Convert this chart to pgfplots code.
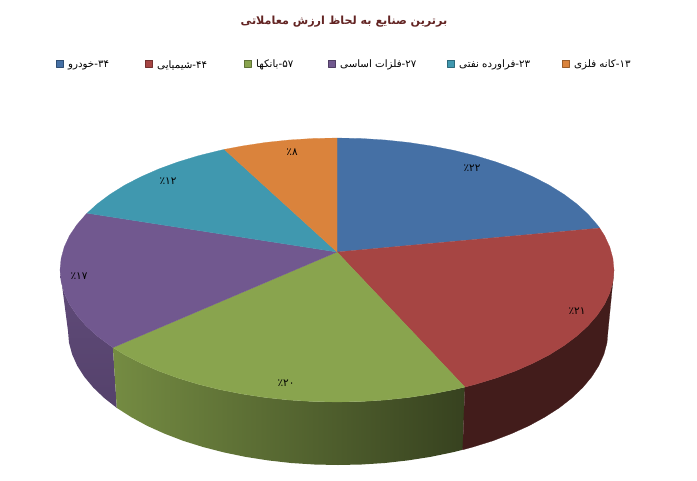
\documentclass[border=0pt]{standalone}
\usepackage{pgfplots}
\pgfplotsset{compat=1.18}
\usepackage{fontspec}
\setmainfont{DejaVu Sans}
\newfontfamily\arabicfont[Script=Arabic]{DejaVu Sans}
\TeXXeTstate=1
\definecolor{cblue}{HTML}{4570A5}
\definecolor{cred}{HTML}{A64543}
\definecolor{cgreen}{HTML}{89A44E}
\definecolor{cpurple}{HTML}{71588F}
\definecolor{cteal}{HTML}{4098AF}
\definecolor{corange}{HTML}{DA833C}
\definecolor{ctitle}{HTML}{632423}
\newcommand{\legf}{\arabicfont\fontsize{10.3}{12}\selectfont}
\newcommand{\pctf}{\arabicfont\fontsize{10.5}{12}\selectfont}
\begin{document}
\begin{tikzpicture}
\path[use as bounding box] (0,0) rectangle (697bp,481bp);
\begin{axis}[
  at={(0,0)}, anchor=south west,
  scale only axis, width=697bp, height=481bp,
  xmin=0, xmax=697, ymin=0, ymax=481, y dir=reverse,
  hide axis, clip=false,
  every axis plot/.append style={line join=round}
]
% side walls
\addplot[draw=none, shade, shading angle=90, top color=cpurple!85!black, bottom color=cpurple!75!black] coordinates {
(112.9,347.6)(97.1,336)(86,325.8)(76.7,315.1)(69.4,304.2)(64.2,292.9)(61.1,281.5)(60,270)
(68,331)(69,342.7)(72.1,354.3)(77.2,365.7)(84.3,376.8)(93.3,387.6)(104.2,398)(116.8,407.9)} -- cycle;
\addplot[draw=none, left color=cgreen!85!black, right color=cgreen!40!black] coordinates {
(464.9,387.1)(454.1,389.6)(431.7,394)(408.7,397.5)(385.1,400)(361.2,401.5)(337,402)(312.8,401.5)(288.9,400)(265.3,397.5)(242.3,394)(219.9,389.6)(198.5,384.3)(178.1,378.1)(158.9,371.1)(141.1,363.3)(124.8,354.9)(112.9,347.6)
(116.8,407.9)(131.2,417.1)(147.1,425.8)(164.4,433.6)(183.1,440.8)(203,447)(223.9,452.4)(245.7,456.9)(268.1,460.4)(291.1,463)(314.5,464.5)(338,465)(361.5,464.5)(384.9,463)(407.9,460.4)(430.3,456.9)(452.1,452.4)(462.7,449.8)} -- cycle;
\addplot[fill=cred!40!black, draw=cred!40!black, line width=0.2pt] coordinates {
(614,270)(612.9,281.5)(609.8,292.9)(604.6,304.2)(597.3,315.1)(588,325.8)(576.9,336)(563.9,345.7)(549.2,354.9)(532.9,363.3)(515.1,371.1)(495.9,378.1)(475.5,384.3)(464.9,387.1)
(462.7,449.8)(473,447)(492.9,440.8)(511.6,433.6)(528.9,425.8)(544.8,417.1)(559.2,407.9)(571.8,398)(582.7,387.6)(591.7,376.8)(598.8,365.7)(603.9,354.3)(607,342.7)(608,331)} -- cycle;
% top slices
\addplot[fill=cblue, draw=cblue, line width=0.2pt] coordinates {
(337,252)(337,138)(361.2,138.5)(385.1,140)(408.7,142.5)(431.7,146)(454.1,150.4)(475.5,155.7)(495.9,161.9)(515.1,168.9)(532.9,176.7)(549.2,185.1)(563.9,194.3)(576.9,204)(588,214.2)(597.3,224.9)(599.7,228.1)} -- cycle;
\addplot[fill=cred, draw=cred, line width=0.2pt] coordinates {
(337,252)(599.7,228.1)(604.6,235.8)(609.8,247.1)(612.9,258.5)(614,270)(612.9,281.5)(609.8,292.9)(604.6,304.2)(597.3,315.1)(588,325.8)(576.9,336)(563.9,345.7)(549.2,354.9)(532.9,363.3)(515.1,371.1)(495.9,378.1)(475.5,384.3)(464.9,387.1)} -- cycle;
\addplot[fill=cgreen, draw=cgreen, line width=0.2pt] coordinates {
(337,252)(464.9,387.1)(454.1,389.6)(431.7,394)(408.7,397.5)(385.1,400)(361.2,401.5)(337,402)(312.8,401.5)(288.9,400)(265.3,397.5)(242.3,394)(219.9,389.6)(198.5,384.3)(178.1,378.1)(158.9,371.1)(141.1,363.3)(124.8,354.9)(112.9,347.6)} -- cycle;
\addplot[fill=cpurple, draw=cpurple, line width=0.2pt] coordinates {
(337,252)(112.9,347.6)(97.1,336)(86,325.8)(76.7,315.1)(69.4,304.2)(64.2,292.9)(61.1,281.5)(60,270)(61.1,258.5)(64.2,247.1)(69.4,235.8)(76.7,224.9)(86,214.2)(87,213.2)} -- cycle;
\addplot[fill=cteal, draw=cteal, line width=0.2pt] coordinates {
(337,252)(87,213.2)(97.1,204)(110.1,194.3)(124.8,185.1)(141.1,176.7)(158.9,168.9)(178.1,161.9)(198.5,155.7)(219.9,150.4)(224.3,149.4)} -- cycle;
\addplot[fill=corange, draw=corange, line width=0.2pt] coordinates {
(337,252)(224.3,149.4)(242.3,146)(265.3,142.5)(288.9,140)(312.8,138.5)(337,138)} -- cycle;
% legend swatches
\addplot[only marks, mark=square*, mark size=3.5bp, mark options={fill=cblue, draw=cblue!70!black}] coordinates {(60,64)};
\addplot[only marks, mark=square*, mark size=3.5bp, mark options={fill=cred, draw=cred!70!black}] coordinates {(149,64)};
\addplot[only marks, mark=square*, mark size=3.5bp, mark options={fill=cgreen, draw=cgreen!70!black}] coordinates {(248,64)};
\addplot[only marks, mark=square*, mark size=3.5bp, mark options={fill=cpurple, draw=cpurple!70!black}] coordinates {(332,64)};
\addplot[only marks, mark=square*, mark size=3.5bp, mark options={fill=cteal, draw=cteal!70!black}] coordinates {(451,64)};
\addplot[only marks, mark=square*, mark size=3.5bp, mark options={fill=corange, draw=corange!70!black}] coordinates {(566,64)};
% legend text
\node[anchor=west, inner sep=0pt] at (axis cs:68,65) {\legf\beginR\beginL ۳۴\endL-خودرو\endR};
\node[anchor=west, inner sep=0pt] at (axis cs:157,65) {\legf\beginR\beginL ۴۴\endL-شیمیایی\endR};
\node[anchor=west, inner sep=0pt] at (axis cs:256,65) {\legf\beginR\beginL ۵۷\endL-بانکها\endR};
\node[anchor=west, inner sep=0pt] at (axis cs:340,65) {\legf\beginR\beginL ۲۷\endL-فلزات اساسی\endR};
\node[anchor=west, inner sep=0pt] at (axis cs:459,65) {\legf\beginR\beginL ۲۳\endL-فراورده نفتی\endR};
\node[anchor=west, inner sep=0pt] at (axis cs:574,65) {\legf\beginR\beginL ۱۳\endL-کانه فلزی\endR};
% title
\node[text=ctitle] at (axis cs:344,22) {\arabicfont\bfseries\fontsize{11.2}{13}\selectfont\beginR برترین صنایع به لحاظ ارزش معاملاتی\endR};
% data labels
\node at (axis cs:472,168) {\pctf\beginL ٪۲۲\endL};
\node at (axis cs:577,311) {\pctf\beginL ٪۲۱\endL};
\node at (axis cs:286,383) {\pctf\beginL ٪۲۰\endL};
\node at (axis cs:79,276) {\pctf\beginL ٪۱۷\endL};
\node at (axis cs:168,181) {\pctf\beginL ٪۱۲\endL};
\node at (axis cs:292,152) {\pctf\beginL ٪۸\endL};
\end{axis}
\end{tikzpicture}
\end{document}
